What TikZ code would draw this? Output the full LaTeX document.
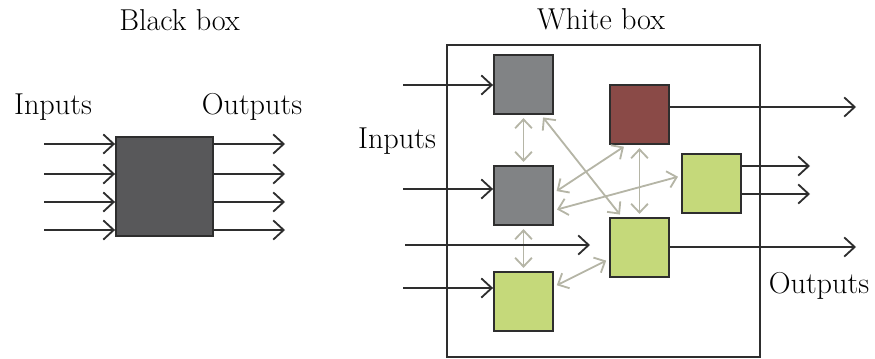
\documentclass[tikz,border=0pt]{standalone}
\usepackage{xcolor}
\usepackage{tikz}
\usetikzlibrary{arrows.meta,positioning}
\definecolor{ink}{HTML}{2E2E2E}
\definecolor{blackfill}{HTML}{58585A}
\definecolor{grayfill}{HTML}{818385}
\definecolor{redfill}{HTML}{8A4A47}
\definecolor{greenfill}{HTML}{C5D97A}
\definecolor{meshc}{HTML}{B5B5A6}
\tikzset{
  flow/.style={draw=ink, line width=1.3pt,
    -{Straight Barb[length=2.6mm,width=4.8mm,line width=1.3pt]}},
  mesh/.style={draw=meshc, line width=1.3pt,
    {Straight Barb[length=2.2mm,width=4.2mm,line width=1.3pt]}-{Straight Barb[length=2.2mm,width=4.2mm,line width=1.3pt]},
    shorten <=0.8mm, shorten >=0.8mm},
  unit/.style={draw=ink, line width=1.3pt, minimum size=1.475cm, inner sep=0pt},
  frame/.style={draw=ink, line width=1.3pt, inner sep=0pt},
  lab/.style={font=\fontsize{21.5}{26}\selectfont, anchor=base, inner sep=0pt},
}
\begin{document}
\begin{tikzpicture}[x=0.025cm, y=-0.025cm]
  \useasboundingbox (0,0) rectangle (875,358);
  % black box
  \node[lab] (bbtitle) at (179.5,30) {Black box};
  \node[lab] (bbin) at (53,114) {Inputs};
  \node[lab] (bbout) at (252,114) {Outputs};
  \node[unit, fill=blackfill, minimum width=2.425cm, minimum height=2.475cm] (bb) at (164.5,186.5) {};
  \foreach \y in {144,174,202,230} {
    \coordinate (bi\y) at (44,\y);
    \coordinate (bo\y) at (285,\y);
    \draw[flow] (bi\y) -- (bi\y -| bb.west);
    \draw[flow] (bo\y -| bb.east) -- (bo\y);
  }
  % white box
  \node[lab] (wbtitle) at (601,29) {White box};
  \node[lab] (wbin) at (397,148) {Inputs};
  \node[lab] (wbout) at (819,293) {Outputs};
  \node[frame, minimum width=7.825cm, minimum height=7.8cm] (wb) at (603.5,201) {};
  \node[unit, fill=grayfill] (ga) at (523.5,84.5) {};
  \node[unit, fill=grayfill] (gb) at (523.5,195.5) {};
  \node[unit, fill=greenfill] (gc) at (523.5,301.5) {};
  \node[unit, fill=redfill] (rd) at (639.5,114.5) {};
  \node[unit, fill=greenfill] (ge) at (711.5,183.5) {};
  \node[unit, fill=greenfill] (gf) at (639.5,247.5) {};
  % inner links
  \draw[mesh] (ga.south) -- (gb.north);
  \draw[mesh] (gb.south) -- (gc.north);
  \draw[mesh] (ga.-60) -- (gf.120);
  \draw[mesh] (gb.5) -- (rd.247);
  \draw[mesh] (gb.-26) -- (ge.166);
  \draw[mesh] (rd.south) -- (gf.north);
  \draw[mesh] (gc.26) -- (gf.201);
  % inputs
  \foreach \n/\y in {ga/85,gb/189,gc/288} {
    \coordinate (in\n) at (403,\y);
    \draw[flow] (in\n) -- (in\n -| \n.west);
  }
  \coordinate (inx) at (405,245);
  \coordinate (inxend) at (590,245);
  \draw[flow] (inx) -- (inxend);
  % outputs
  \foreach \n/\y/\x in {rd/107/856,ge/166/810,ge/194/810,gf/247/856} {
    \coordinate (out\y) at (\x,\y);
    \draw[flow] (out\y -| \n.east) -- (out\y);
  }
\end{tikzpicture}
\end{document}
